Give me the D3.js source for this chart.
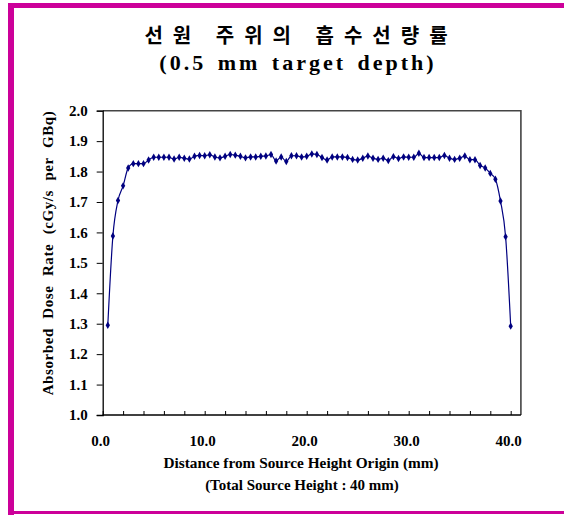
<!DOCTYPE html>
<html><head><meta charset="utf-8">
<script src="https://cdn.jsdelivr.net/npm/d3@7/dist/d3.min.js"></script>
<style>body{margin:0;background:#fff}svg{display:block}</style>
</head><body>
<script>
const titleLines = ["선원 주위의 흡수선량률", "(0.5 mm target depth)"];
const xLabelLines = ["Distance from Source Height Origin (mm)", "(Total Source Height : 40 mm)"];
const yLabel = "Absorbed Dose Rate (cGy/s per GBq)";
const xTickValues = [0, 10, 20, 30, 40];
const yTickValues = [1.0, 1.1, 1.2, 1.3, 1.4, 1.5, 1.6, 1.7, 1.8, 1.9, 2.0];
const distance = [0.5,1.0,1.5,2.0,2.5,3.0,3.5,4.0,4.5,5.0,5.5,6.0,6.5,7.0,7.5,8.0,8.5,9.0,9.5,10.0,
  10.5,11.0,11.5,12.0,12.5,13.0,13.5,14.0,14.5,15.0,15.5,16.0,16.5,17.0,17.5,18.0,18.5,19.0,19.5,20.0,
  20.5,21.0,21.5,22.0,22.5,23.0,23.5,24.0,24.5,25.0,25.5,26.0,26.5,27.0,27.5,28.0,28.5,29.0,29.5,30.0,
  30.5,31.0,31.5,32.0,32.5,33.0,33.5,34.0,34.5,35.0,35.5,36.0,36.5,37.0,37.5,38.0,38.5,39.0,39.5,40.0];
const doseRate = [1.295,1.588,1.705,1.753,1.812,1.826,1.826,1.826,1.838,1.847,1.847,1.847,1.847,1.841,1.847,1.844,1.841,1.850,1.853,1.852,
  1.855,1.848,1.845,1.850,1.856,1.854,1.850,1.845,1.848,1.848,1.850,1.851,1.856,1.835,1.848,1.833,1.852,1.852,1.848,1.850,
  1.858,1.856,1.846,1.838,1.848,1.848,1.848,1.846,1.840,1.838,1.844,1.851,1.844,1.840,1.844,1.836,1.849,1.843,1.848,1.847,
  1.847,1.860,1.846,1.846,1.846,1.846,1.853,1.844,1.840,1.844,1.851,1.839,1.839,1.820,1.812,1.794,1.775,1.703,1.586,1.292];

const W = 564, H = 515;
const svg = d3.select("body").append("svg").attr("width", W).attr("height", H);
const mag = "#cc0099";
svg.append("rect").attr("x", 8).attr("y", 3).attr("width", W - 8).attr("height", 5).attr("fill", mag);
svg.append("rect").attr("x", 8).attr("y", 3).attr("width", 6).attr("height", 512).attr("fill", mag);
svg.append("rect").attr("x", 8).attr("y", 511).attr("width", W - 8).attr("height", 3).attr("fill", mag);

const serif = "'Liberation Serif','Times New Roman',serif";
svg.append("text").attr("x", 301).attr("y", 43).attr("text-anchor", "middle")
  .attr("font-family", "'Noto Sans CJK KR',sans-serif").attr("font-weight", "bold")
  .attr("font-size", 20).attr("letter-spacing", 10).text(titleLines[0]);
svg.append("text").attr("x", 298).attr("y", 70).attr("text-anchor", "middle")
  .attr("font-family", serif).attr("font-weight", "bold")
  .attr("font-size", 22).attr("letter-spacing", 3).attr("word-spacing", 3).text(titleLines[1]);

const x = d3.scaleLinear().domain([0, 41]).range([102.7, 520.9]);
const y = d3.scaleLinear().domain([1.0, 2.0]).range([415, 110.7]);

svg.append("path").attr("d", `M${x(0)},${y(2)}H${x(41)}V${y(1)}`)
  .attr("fill", "none").attr("stroke", "#444").attr("stroke-width", 1.6);

const yAxis = svg.append("g").attr("transform", `translate(${x(0)},0)`)
  .call(d3.axisLeft(y).tickValues(yTickValues).tickFormat(d3.format(".1f")).tickSize(6).tickPadding(9));
yAxis.select(".domain").attr("stroke", "#000").attr("stroke-width", 1.3);
yAxis.selectAll("text").attr("font-family", serif).attr("font-weight", "bold").attr("font-size", 15).attr("fill", "#000");

const xAxis = svg.append("g").attr("transform", `translate(0,${y(1)})`)
  .call(d3.axisBottom(x).tickValues(d3.range(0, 41, 2)).tickSize(-4).tickFormat(""));
xAxis.select(".domain").attr("d", `M${x(0)},0H${x(41)}`).attr("stroke", "#000").attr("stroke-width", 1.3);
xAxis.selectAll(".tick line").attr("stroke", "#000");
svg.append("g").selectAll("text").data(xTickValues).join("text")
  .attr("x", d => x(d) - 2).attr("y", 446).attr("text-anchor", "middle")
  .attr("font-family", serif).attr("font-weight", "bold").attr("font-size", 15)
  .text(d => d3.format(".1f")(d));

svg.append("text").attr("x", 301).attr("y", 468).attr("text-anchor", "middle")
  .attr("font-family", serif).attr("font-weight", "bold").attr("font-size", 15.3).text(xLabelLines[0]);
svg.append("text").attr("x", 302).attr("y", 490).attr("text-anchor", "middle")
  .attr("font-family", serif).attr("font-weight", "bold").attr("font-size", 15).text(xLabelLines[1]);
svg.append("text").attr("transform", "translate(53,253) rotate(-90)").attr("text-anchor", "middle")
  .attr("font-family", serif).attr("font-weight", "bold").attr("font-size", 15)
  .attr("letter-spacing", 0.6).attr("word-spacing", 5).text(yLabel);

const data = distance.map((d, i) => [d, doseRate[i]]);
svg.append("path").datum(data)
  .attr("d", d3.line().x(d => x(d[0])).y(d => y(d[1])).curve(d3.curveMonotoneX))
  .attr("fill", "none").attr("stroke", "#000080").attr("stroke-width", 1.2);
svg.append("g").selectAll("path").data(data).join("path")
  .attr("transform", d => `translate(${x(d[0])},${y(d[1])})`)
  .attr("d", d3.symbol(d3.symbolDiamond, 16)())
  .attr("fill", "#000080");
</script>
</body></html>
